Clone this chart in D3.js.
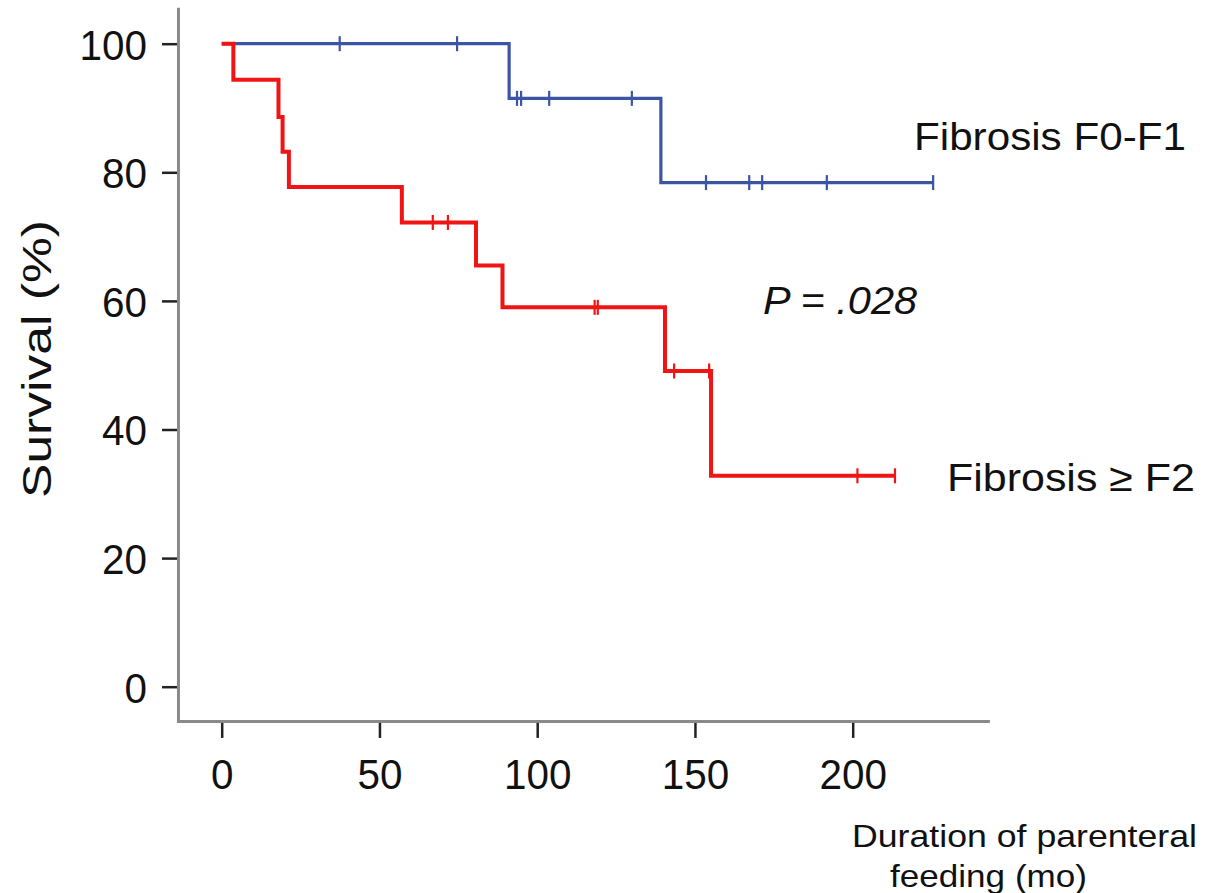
<!DOCTYPE html>
<html>
<head>
<meta charset="utf-8">
<script src="https://cdn.jsdelivr.net/npm/d3@7"></script>
<style>
  body { margin: 0; background: #fff; }
  text { font-family: "Liberation Sans", Arial, sans-serif; fill: #111; }
</style>
</head>
<body>
<script>
// Kaplan-Meier curves (time in months, survival in %)
var lowTimes = [0, 91.1, 139.2];          // Fibrosis F0-F1 step starts
var lowSurv = [100, 91.5, 78.4];
var lowEnd = 225.5;
var lowCensor = [37.4, 74.6, 93.6, 94.9, 103.8, 130, 153.5, 167.2, 171.3, 191.8, 225.5];

var highTimes = [0, 3.7, 18.0, 19.3, 21.3, 57.1, 80.6, 89.0, 140.5, 155.1];   // Fibrosis >= F2
var highSurv = [100, 94.4, 88.6, 83.2, 77.7, 72.2, 65.5, 59.0, 49.1, 32.8];
var highEnd = 213.4;
var highCensor = [66.9, 71.7, 118.2, 119.2, 143.4, 154.5, 201.5, 213.4];

var xTicks = [0, 50, 100, 150, 200];
var yTicks = [0, 20, 40, 60, 80, 100];

var svgWidth = 1221;
var svgHeight = 893;

var svg = d3.select("body")
  .append("svg")
  .attr("width", svgWidth)
  .attr("height", svgHeight);

var x = d3.scaleLinear().domain([0, 200]).range([221.7, 852.7]);
var y = d3.scaleLinear().domain([0, 100]).range([686.7, 43.7]);

// axis lines (grey) drawn separately from the dark tick marks
var axisColor = "#8a8a8a";
svg.append("line")
  .attr("x1", x(-13.7)).attr("x2", x(-13.7))
  .attr("y1", y(105.6)).attr("y2", y(-5.4) + 1.5)
  .attr("stroke", axisColor).attr("stroke-width", 3);
svg.append("line")
  .attr("x1", x(-13.7) - 1.5).attr("x2", x(243.5))
  .attr("y1", y(-5.4)).attr("y2", y(-5.4))
  .attr("stroke", axisColor).attr("stroke-width", 3);

var leftAxis = d3.axisLeft(y).tickValues(yTicks).tickSize(15).tickPadding(15).tickSizeOuter(0);
var bottomAxis = d3.axisBottom(x).tickValues(xTicks).tickSize(15).tickPadding(21).tickSizeOuter(0);

var gy = svg.append("g")
  .attr("transform", `translate(${x(-13.7) - 1.5}, 0)`)
  .call(leftAxis);
var gx = svg.append("g")
  .attr("transform", `translate(0, ${y(-5.4) + 1.5})`)
  .call(bottomAxis);

[gy, gx].forEach(function(g) {
  g.select(".domain").remove();
  g.selectAll(".tick line").attr("stroke", "#222").attr("stroke-width", 2.5);
  g.selectAll(".tick text")
    .attr("fill", "#111")
    .style("font-family", "'Liberation Sans', Arial, sans-serif")
    .style("font-size", "43px")
    .attr("textLength", d => String(d).length * 22.5)
    .attr("lengthAdjust", "spacingAndGlyphs");
});
gy.selectAll(".tick text").attr("dy", "0.36em");

// step path for a KM curve
function stepPath(times, surv, end) {
  var pts = [];
  times.forEach(function(t, i) {
    if (i > 0) pts.push([t, surv[i - 1]]);
    pts.push([t, surv[i]]);
  });
  pts.push([end, surv[surv.length - 1]]);
  return d3.line().x(d => x(d[0])).y(d => y(d[1]))(pts);
}

function survAt(times, surv, t) {
  var s = surv[0];
  times.forEach(function(tt, i) { if (tt <= t) s = surv[i]; });
  return s;
}

var groups = [
  { times: lowTimes, surv: lowSurv, end: lowEnd, censor: lowCensor, color: "#3b55a4", width: 3.2 },
  { times: highTimes, surv: highSurv, end: highEnd, censor: highCensor, color: "#f01414", width: 4 }
];

groups.forEach(function(g) {
  svg.append("path")
    .attr("d", stepPath(g.times, g.surv, g.end))
    .attr("fill", "none")
    .attr("stroke", g.color)
    .attr("stroke-width", g.width)
    .attr("stroke-linejoin", "miter");

  svg.selectAll(null)
    .data(g.censor)
    .enter()
    .append("line")
    .attr("x1", d => x(d)).attr("x2", d => x(d))
    .attr("y1", d => y(survAt(g.times, g.surv, d)) - 7.5)
    .attr("y2", d => y(survAt(g.times, g.surv, d)) + 7.5)
    .attr("stroke", g.color)
    .attr("stroke-width", 2.2);
});

// labels
svg.append("text")
  .attr("x", 914).attr("y", 150)
  .style("font-size", "39px")
  .attr("textLength", 272).attr("lengthAdjust", "spacingAndGlyphs")
  .text("Fibrosis F0-F1");

svg.append("text")
  .attr("x", 763).attr("y", 314)
  .style("font-size", "39px")
  .style("font-style", "italic")
  .attr("textLength", 154).attr("lengthAdjust", "spacingAndGlyphs")
  .text("P = .028");

svg.append("text")
  .attr("x", 947).attr("y", 491)
  .style("font-size", "39px")
  .attr("textLength", 248).attr("lengthAdjust", "spacingAndGlyphs")
  .text("Fibrosis \u2265 F2");

svg.append("text")
  .attr("transform", "translate(51, 359) rotate(-90)")
  .attr("text-anchor", "middle")
  .style("font-size", "40px")
  .attr("textLength", 278).attr("lengthAdjust", "spacingAndGlyphs")
  .text("Survival (%)");

svg.append("text")
  .attr("x", 852).attr("y", 847)
  .style("font-size", "32px")
  .attr("textLength", 345).attr("lengthAdjust", "spacingAndGlyphs")
  .text("Duration of parenteral");

svg.append("text")
  .attr("x", 890).attr("y", 887)
  .style("font-size", "32px")
  .attr("textLength", 197).attr("lengthAdjust", "spacingAndGlyphs")
  .text("feeding (mo)");
</script>
</body>
</html>
